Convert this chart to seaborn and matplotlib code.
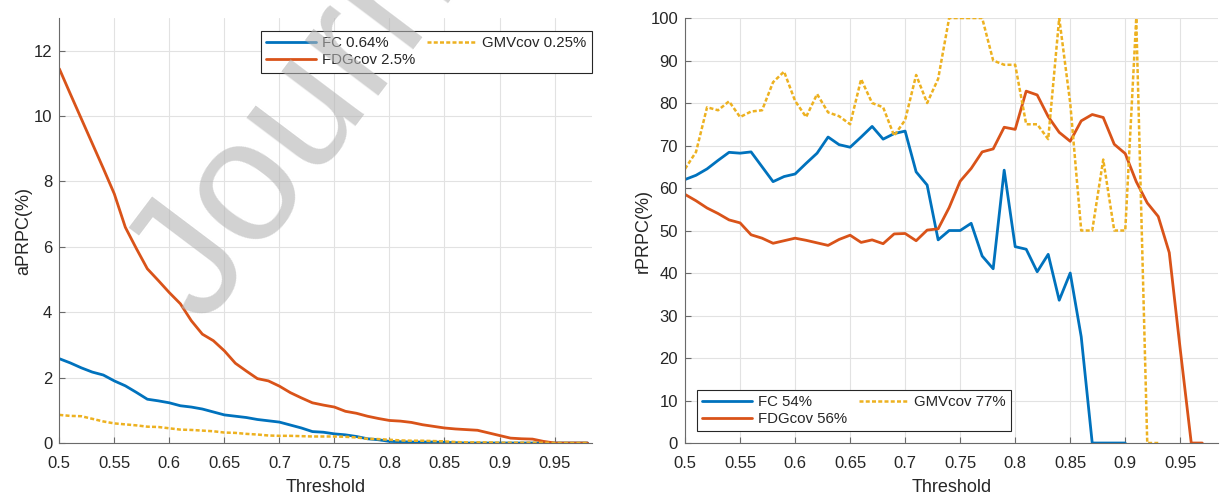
import numpy as np
import pandas as pd
import matplotlib
matplotlib.use('Agg')
import matplotlib.pyplot as plt
import seaborn as sns

# thresholds
thr_abs = np.round(np.arange(0.50, 0.985, 0.01), 2)      # 0.50 .. 0.98
thr_fc = np.round(np.arange(0.50, 0.905, 0.01), 2)       # 0.50 .. 0.90
thr_gmv = np.round(np.arange(0.50, 0.935, 0.01), 2)      # 0.50 .. 0.93
thr_fdg = np.round(np.arange(0.50, 0.975, 0.01), 2)      # 0.50 .. 0.97

# absolute PRPC (%)
fc_abs = [2.58, 2.45, 2.3, 2.17, 2.08, 1.9, 1.75, 1.55, 1.34, 1.29,
          1.23, 1.14, 1.1, 1.04, 0.95, 0.86, 0.82, 0.78, 0.72, 0.68,
          0.64, 0.55, 0.46, 0.35, 0.33, 0.28, 0.25, 0.2, 0.13, 0.1,
          0.05, 0.04, 0.03, 0.03, 0.03, 0.02, 0.01, 0, 0, 0,
          0, 0, 0, 0, 0, 0, 0, 0, 0]
fdg_abs = [11.45, 10.68, 9.92, 9.16, 8.4, 7.62, 6.6, 5.95, 5.33, 4.97,
           4.6, 4.26, 3.74, 3.33, 3.13, 2.82, 2.44, 2.2, 1.97, 1.9,
           1.74, 1.54, 1.38, 1.23, 1.16, 1.10, 0.97, 0.91, 0.82, 0.75,
           0.69, 0.67, 0.63, 0.56, 0.51, 0.46, 0.43, 0.41, 0.39, 0.31,
           0.23, 0.15, 0.13, 0.12, 0.05, 0, 0, 0, 0]
gmv_abs = [0.86, 0.83, 0.82, 0.74, 0.66, 0.6, 0.57, 0.54, 0.5, 0.49,
           0.45, 0.41, 0.4, 0.38, 0.36, 0.32, 0.31, 0.28, 0.26, 0.23,
           0.22, 0.22, 0.21, 0.2, 0.2, 0.2, 0.19, 0.17, 0.13, 0.12,
           0.1, 0.08, 0.07, 0.07, 0.06, 0.05, 0.03, 0.02, 0.02, 0.02,
           0.01, 0.01, 0.01, 0.01, 0.01, 0, 0, 0, 0]

# relative PRPC (%)
fc_rel = [62, 63, 64.5, 66.5, 68.4, 68.2, 68.5, 65, 61.5, 62.7,
          63.3, 65.8, 68.2, 72, 70.2, 69.6, 72, 74.5, 71.5, 72.8,
          73.4, 63.8, 60.7, 47.8, 50, 50, 51.7, 44, 41, 64.2,
          46.2, 45.6, 40.3, 44.4, 33.6, 40, 25, 0, 0, 0, 0]
fdg_rel = [58.5, 57, 55.3, 54, 52.5, 51.8, 49, 48.2, 47, 47.6,
           48.2, 47.7, 47.1, 46.5, 47.9, 48.9, 47.2, 47.8, 46.9, 49.2,
           49.3, 47.6, 50.1, 50.4, 55.4, 61.6, 64.6, 68.5, 69.2, 74.3,
           73.8, 82.8, 81.9, 76.8, 73.1, 71, 75.8, 77.3, 76.6, 70.3,
           68.1, 61.5, 56.5, 53.3, 44.8, 22, 0, 0]
gmv_rel = [64.5, 68.5, 79, 78.3, 80.4, 76.7, 78, 78.3, 84.9, 87.4,
           80.5, 76.7, 82.1, 77.8, 76.9, 75, 85.6, 80, 79, 72.3,
           76, 86.6, 80, 85.7, 100, 100, 100, 100, 90, 89,
           89, 75, 75, 71.5, 100, 80, 50, 50, 66.7, 50,
           50, 100, 0, 0]

labels_abs = ['FC 0.64%', 'FDGcov 2.5%', 'GMVcov 0.25%']
labels_rel = ['FC 54%', 'FDGcov 56%', 'GMVcov 77%']

blue, orange, yellow = '#0072BD', '#D95319', '#EDB120'

sns.set_theme(style='ticks')
plt.rcParams['font.family'] = ['Liberation Sans', 'DejaVu Sans']

fig = plt.figure(figsize=(12.2, 4.98), dpi=100)
ax1 = fig.add_axes([0.0486, 0.1104, 0.4366, 0.8534])
ax2 = fig.add_axes([0.5615, 0.1104, 0.4366, 0.8534])


def draw(ax, xs, ys, labels, ylim, yticks, ylabel, ylabpad):
    sns.lineplot(x=xs[0], y=ys[0], ax=ax, color=blue, lw=2, label=labels[0])
    sns.lineplot(x=xs[1], y=ys[1], ax=ax, color=orange, lw=2, label=labels[1])
    sns.lineplot(x=xs[2], y=ys[2], ax=ax, color=yellow, lw=1.8,
                 linestyle=(0, (1.6, 0.9)), label=labels[2])
    ax.set_xlim(0.5, 0.984)
    ax.set_ylim(*ylim)
    xt = np.round(np.arange(0.5, 0.951, 0.05), 2)
    ax.set_xticks(xt)
    ax.set_xticklabels(['%g' % v for v in xt])
    ax.set_yticks(yticks)
    ax.grid(True, color='#e2e2e2', linewidth=0.8)
    ax.set_axisbelow(True)
    for s in ['top', 'right']:
        ax.spines[s].set_visible(False)
    for s in ['left', 'bottom']:
        ax.spines[s].set_color('#6a6a6a')
        ax.spines[s].set_linewidth(0.8)
    ax.tick_params(direction='in', length=4, width=0.8, color='#6a6a6a',
                   labelcolor='#262626', labelsize=12)
    ax.tick_params(axis='x', pad=9)
    ax.tick_params(axis='y', pad=5)
    ax.set_xlabel('Threshold', fontsize=13, color='#262626', labelpad=6)
    ax.set_ylabel(ylabel, fontsize=13, color='#262626', labelpad=ylabpad)


draw(ax1, [thr_abs, thr_abs, thr_abs], [fc_abs, fdg_abs, gmv_abs],
     labels_abs, (0, 13), range(0, 13, 2), 'aPRPC(%)', 1)
draw(ax2, [thr_fc, thr_fdg, thr_gmv], [fc_rel, fdg_rel, gmv_rel],
     labels_rel, (0, 100), range(0, 101, 10), 'rPRPC(%)', -1)

leg_kw = dict(ncol=2, frameon=True, fancybox=False, framealpha=1,
              edgecolor='#262626', fontsize=10.8, handlelength=3.3,
              handletextpad=0.4, columnspacing=0.8, labelspacing=0.2,
              borderpad=0.35, borderaxespad=0)
l1 = ax1.legend(loc='upper right', bbox_to_anchor=(1.0, 0.969), **leg_kw)
l2 = ax2.legend(loc='lower left', bbox_to_anchor=(0.0225, 0.028), **leg_kw)
for lg in (l1, l2):
    lg.get_frame().set_linewidth(0.8)
    for t in lg.get_texts():
        t.set_color('#262626')

# pre-proof watermark
fig.text(0.166, 0.345, 'Journal', rotation=53, rotation_mode='anchor',
         ha='left', va='baseline', fontsize=125, color='#b4b4b4',
         alpha=0.6, zorder=10)

fig.savefig('out.png', dpi=100)
